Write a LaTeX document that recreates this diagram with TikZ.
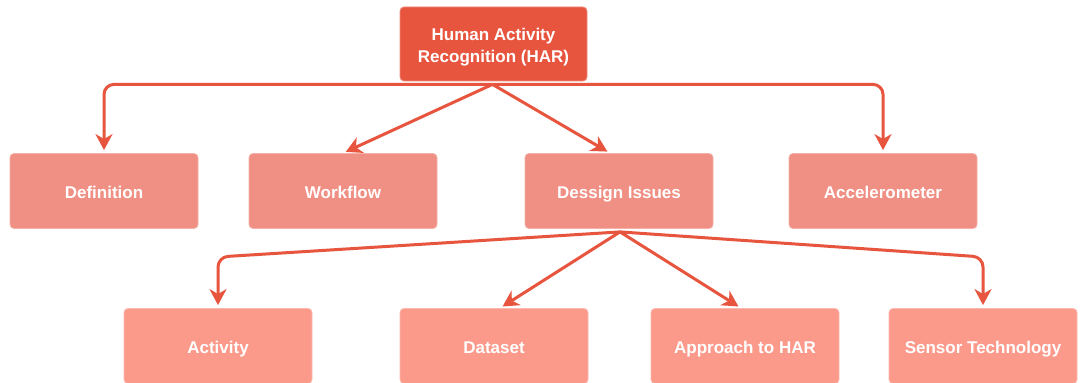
\documentclass[tikz,border=0pt]{standalone}
\usepackage{fontspec}
\setmainfont{Liberation Sans}
\usetikzlibrary{arrows.meta,calc}
\definecolor{rootc}{HTML}{E8553F}
\definecolor{midc}{HTML}{F08F83}
\definecolor{lowc}{HTML}{FB9A8B}
\definecolor{linec}{HTML}{E8553F}
\tikzset{
  box/.style={rectangle, rounded corners=2pt, inner sep=0pt, text=white,
    font=\fontsize{8.5pt}{11pt}\selectfont\bfseries, align=center,
    minimum width=94pt, minimum height=37.5pt},
  oneline/.style={text height=8.6pt, text depth=1.2pt},
  rootbox/.style={box, fill=rootc, draw=rootc!70!white, line width=0.4pt, minimum width=93.5pt, minimum height=37pt},
  midbox/.style={box, oneline, fill=midc, draw=midc!70!white, line width=0.4pt},
  lowbox/.style={box, oneline, fill=lowc, draw=lowc!70!white, line width=0.4pt},
  conn/.style={draw=linec, line width=1.5pt, rounded corners=5pt,
    -{Stealth[length=8pt,width=8.5pt,inset=2.5pt]}, shorten >=1.5pt}
}
\begin{document}
\begin{tikzpicture}[x=0.5pt,y=-0.5pt]
\useasboundingbox (0,0) rectangle (1080,383);
\fill[white] (0,0) rectangle (1080,383);
\clip (0,0) rectangle (1080,383);
% nodes
\node[rootbox] (root) at (493.5,44) {};
\node[text=white, font=\fontsize{8.5pt}{11pt}\selectfont\bfseries, align=center, inner sep=0pt] (roottext) at (493.5,47) {Human Activity\\Recognition (HAR)};
\node[midbox] (def) at (104,191) {Definition};
\node[midbox] (wf) at (343,191) {Workflow};
\node[midbox] (dess) at (619,191) {Dessign Issues};
\node[midbox] (acc) at (883,191) {Accelerometer};
\node[lowbox] (act) at (218,346) {Activity};
\node[lowbox] (data) at (494,346) {Dataset};
\node[lowbox] (appr) at (745,346) {Approach to HAR};
\node[lowbox] (sen) at (983,346) {Sensor Technology};
% coordinates
\coordinate (r0) at ($(root.south)+(-1,3)$);
\coordinate (d0) at ($(dess.south)+(1,3)$);
% level 1 connectors
\draw[conn] (r0) -| (def.north);
\draw[conn] (r0) -| (acc.north);
\draw[conn] (r0) -- (wf.north);
\draw[conn] (r0) -- ($(dess.north)+(-9,0)$);
% level 2 connectors
\draw[conn] (d0) -- (act.north |- 0,257) -- (act.north);
\draw[conn] (d0) -- (sen.north |- 0,257) -- (sen.north);
\draw[conn] (d0) -- ($(data.north)+(6,0)$);
\draw[conn] (d0) -- ($(appr.north)+(-4,0)$);
\end{tikzpicture}
\end{document}
